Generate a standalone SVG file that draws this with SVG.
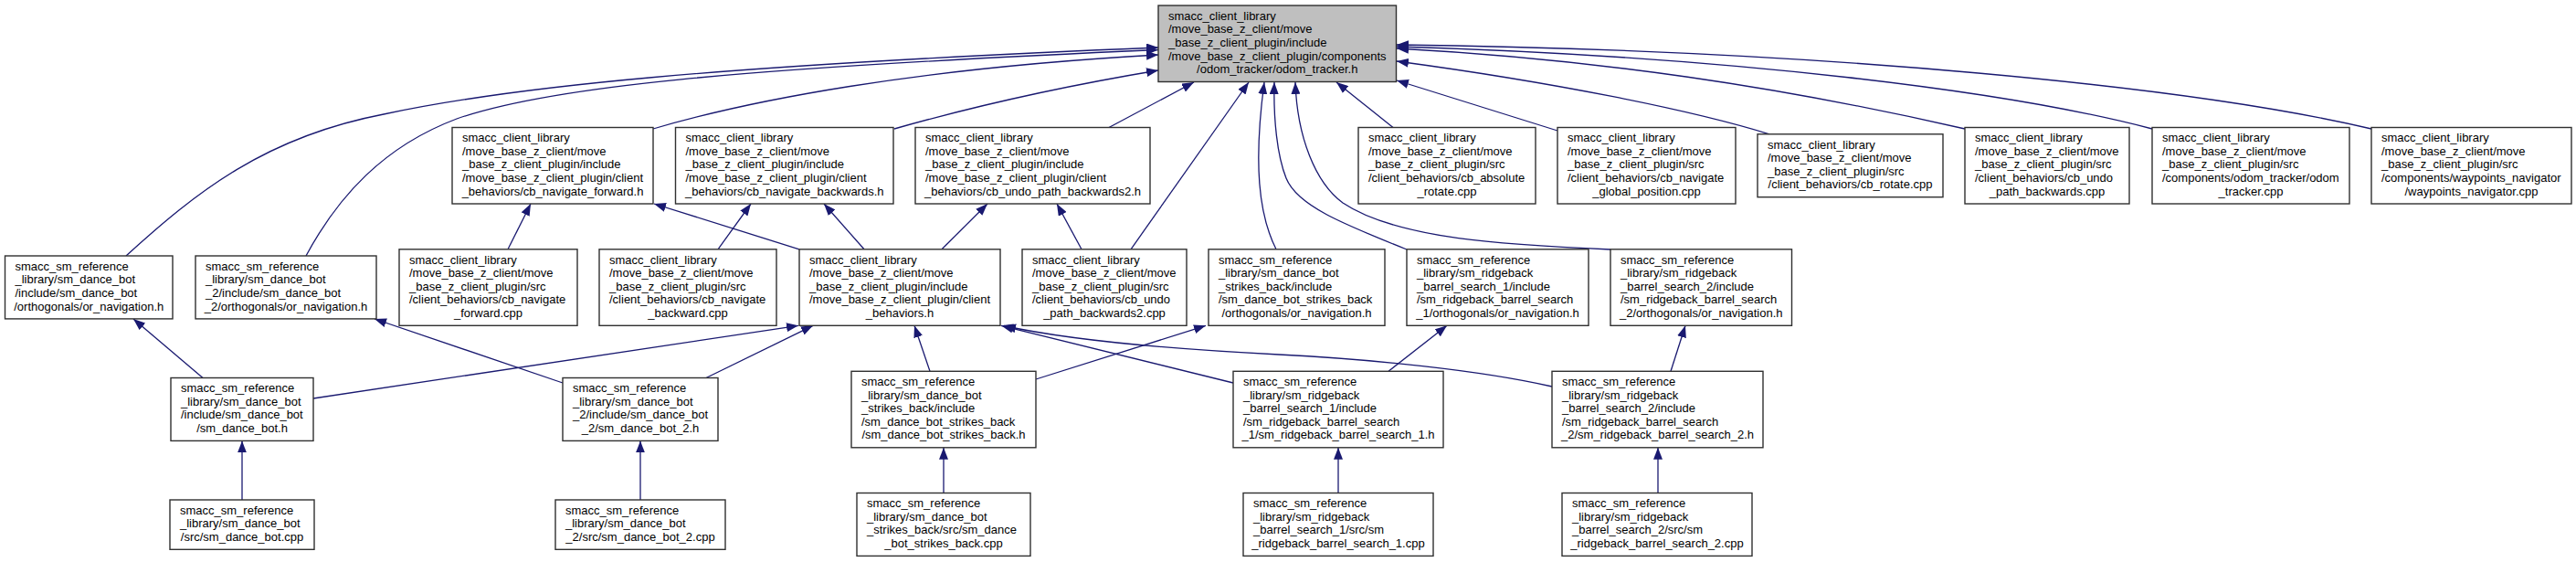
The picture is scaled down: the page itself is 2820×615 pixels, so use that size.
<svg xmlns="http://www.w3.org/2000/svg" width="2820" height="615" viewBox="0 0 2820 615">
<style>
.n rect{fill:#ffffff;stroke:#303030;stroke-width:1.4}
.m rect{fill:#bfbfbf;stroke:#303030;stroke-width:1.4}
text{font-family:"Liberation Sans",Arial,Helvetica,sans-serif;font-size:13px;fill:#000000}
.c{text-anchor:middle}
#edges path{fill:none;stroke:#191970;stroke-width:1.3;marker-end:url(#arr)}
</style>
<defs>
<marker id="arr" viewBox="0 0 13 10" markerWidth="13" markerHeight="10" refX="13" refY="5" orient="auto" markerUnits="userSpaceOnUse"><path d="M0,0 L13,5 L0,10 z" fill="#191970"/></marker>
</defs>
<rect x="0" y="0" width="2820" height="615" fill="#ffffff"/>
<g id="edges">
<path d="M138,280 C215,210 290,150 420,125 C560,95 780,72 1268,52"/>
<path d="M335,280 C370,215 420,160 500,130 C600,95 800,75 1268,54.5"/>
<path d="M715,141 C820,110 1000,75 1268,60"/>
<path d="M979,141 C1060,118 1160,95 1268,77"/>
<path d="M1214,139.5 L1307,90"/>
<path d="M1238,272.8 L1367,90"/>
<path d="M1397,272.8 C1378,235 1372,180 1384,90"/>
<path d="M1540,273 C1470,245 1420,225 1408,195 C1398,170 1394,130 1395,90"/>
<path d="M1763,273 C1650,268 1530,262 1470,222 C1440,200 1420,150 1418,90"/>
<path d="M1525,139.5 L1463,90"/>
<path d="M1705,143 L1529,88"/>
<path d="M1937,146.8 C1850,120 1700,90 1529,67"/>
<path d="M2151,141 C1950,95 1750,65 1529,53"/>
<path d="M2356,141 C2200,100 1900,62 1529,51"/>
<path d="M2596,141 C2400,95 2000,55 1529,49"/>
<path d="M556,272.8 L581,223"/>
<path d="M786,272.8 L822,223"/>
<path d="M875,272.8 L716,223"/>
<path d="M946,272.8 L902,223"/>
<path d="M1031,272.8 L1081,223"/>
<path d="M1184,272.8 L1157,223"/>
<path d="M222,413.5 L146,349"/>
<path d="M343,436 L874,356.3"/>
<path d="M616,419 L410,349"/>
<path d="M773,413.5 L890,356.3"/>
<path d="M1018,406.3 L1001,356.3"/>
<path d="M1134,415 L1320,356.3"/>
<path d="M1350,419 L1096,356.3"/>
<path d="M1699,423 C1620,405 1500,393 1400,388 C1280,382 1170,372 1099,356.5"/>
<path d="M1520,406.3 L1584,356.3"/>
<path d="M1829,406.3 L1845,356.3"/>
<path d="M265,547 L265,482.4"/>
<path d="M701,547 L701,482.4"/>
<path d="M1033,539.5 L1033,489.8"/>
<path d="M1465,539.5 L1465,489.8"/>
<path d="M1815,539.5 L1815,489.8"/>
</g>
<g id="node_main" class="m"><rect x="1268" y="6" width="260.5" height="83.5"/><text><tspan x="1279" y="21.7">smacc_client_library</tspan><tspan x="1279" y="36.3">/move_base_z_client/move</tspan><tspan x="1279" y="50.9">_base_z_client_plugin/include</tspan><tspan x="1279" y="65.5">/move_base_z_client_plugin/components</tspan><tspan class="c" x="1398.25" y="80.1">/odom_tracker/odom_tracker.h</tspan></text></g>
<g id="node_cb_navigate_forward_h" class="n"><rect x="495" y="139.5" width="220" height="83.5"/><text><tspan x="506" y="155.2">smacc_client_library</tspan><tspan x="506" y="169.8">/move_base_z_client/move</tspan><tspan x="506" y="184.4">_base_z_client_plugin/include</tspan><tspan x="506" y="199">/move_base_z_client_plugin/client</tspan><tspan class="c" x="605" y="213.6">_behaviors/cb_navigate_forward.h</tspan></text></g>
<g id="node_cb_navigate_backwards_h" class="n"><rect x="739.5" y="139.5" width="238.5" height="83.5"/><text><tspan x="750.5" y="155.2">smacc_client_library</tspan><tspan x="750.5" y="169.8">/move_base_z_client/move</tspan><tspan x="750.5" y="184.4">_base_z_client_plugin/include</tspan><tspan x="750.5" y="199">/move_base_z_client_plugin/client</tspan><tspan class="c" x="858.75" y="213.6">_behaviors/cb_navigate_backwards.h</tspan></text></g>
<g id="node_cb_undo_path_backwards2_h" class="n"><rect x="1002" y="139.5" width="257" height="83.5"/><text><tspan x="1013" y="155.2">smacc_client_library</tspan><tspan x="1013" y="169.8">/move_base_z_client/move</tspan><tspan x="1013" y="184.4">_base_z_client_plugin/include</tspan><tspan x="1013" y="199">/move_base_z_client_plugin/client</tspan><tspan class="c" x="1130.5" y="213.6">_behaviors/cb_undo_path_backwards2.h</tspan></text></g>
<g id="node_cb_absolute_rotate_cpp" class="n"><rect x="1487" y="139.5" width="194" height="83.5"/><text><tspan x="1498" y="155.2">smacc_client_library</tspan><tspan x="1498" y="169.8">/move_base_z_client/move</tspan><tspan x="1498" y="184.4">_base_z_client_plugin/src</tspan><tspan x="1498" y="199">/client_behaviors/cb_absolute</tspan><tspan class="c" x="1584" y="213.6">_rotate.cpp</tspan></text></g>
<g id="node_cb_navigate_global_position_cpp" class="n"><rect x="1705" y="139.5" width="195" height="83.5"/><text><tspan x="1716" y="155.2">smacc_client_library</tspan><tspan x="1716" y="169.8">/move_base_z_client/move</tspan><tspan x="1716" y="184.4">_base_z_client_plugin/src</tspan><tspan x="1716" y="199">/client_behaviors/cb_navigate</tspan><tspan class="c" x="1802.5" y="213.6">_global_position.cpp</tspan></text></g>
<g id="node_cb_rotate_cpp" class="n"><rect x="1924" y="146.8" width="203" height="68.9"/><text><tspan x="1935" y="162.5">smacc_client_library</tspan><tspan x="1935" y="177.1">/move_base_z_client/move</tspan><tspan x="1935" y="191.7">_base_z_client_plugin/src</tspan><tspan class="c" x="2025.5" y="206.3">/client_behaviors/cb_rotate.cpp</tspan></text></g>
<g id="node_cb_undo_path_backwards_cpp" class="n"><rect x="2151" y="139.5" width="180" height="83.5"/><text><tspan x="2162" y="155.2">smacc_client_library</tspan><tspan x="2162" y="169.8">/move_base_z_client/move</tspan><tspan x="2162" y="184.4">_base_z_client_plugin/src</tspan><tspan x="2162" y="199">/client_behaviors/cb_undo</tspan><tspan class="c" x="2241" y="213.6">_path_backwards.cpp</tspan></text></g>
<g id="node_odom_tracker_cpp" class="n"><rect x="2356" y="139.5" width="216" height="83.5"/><text><tspan x="2367" y="155.2">smacc_client_library</tspan><tspan x="2367" y="169.8">/move_base_z_client/move</tspan><tspan x="2367" y="184.4">_base_z_client_plugin/src</tspan><tspan x="2367" y="199">/components/odom_tracker/odom</tspan><tspan class="c" x="2464" y="213.6">_tracker.cpp</tspan></text></g>
<g id="node_waypoints_navigator_cpp" class="n"><rect x="2596" y="139.5" width="219" height="83.5"/><text><tspan x="2607" y="155.2">smacc_client_library</tspan><tspan x="2607" y="169.8">/move_base_z_client/move</tspan><tspan x="2607" y="184.4">_base_z_client_plugin/src</tspan><tspan x="2607" y="199">/components/waypoints_navigator</tspan><tspan class="c" x="2705.5" y="213.6">/waypoints_navigator.cpp</tspan></text></g>
<g id="node_dance_bot_or_navigation_h" class="n"><rect x="5.5" y="280" width="183.5" height="68.9"/><text><tspan x="16.5" y="295.7">smacc_sm_reference</tspan><tspan x="16.5" y="310.3">_library/sm_dance_bot</tspan><tspan x="16.5" y="324.9">/include/sm_dance_bot</tspan><tspan class="c" x="97.25" y="339.5">/orthogonals/or_navigation.h</tspan></text></g>
<g id="node_dance_bot_2_or_navigation_h" class="n"><rect x="214" y="280" width="198" height="68.9"/><text><tspan x="225" y="295.7">smacc_sm_reference</tspan><tspan x="225" y="310.3">_library/sm_dance_bot</tspan><tspan x="225" y="324.9">_2/include/sm_dance_bot</tspan><tspan class="c" x="313" y="339.5">_2/orthogonals/or_navigation.h</tspan></text></g>
<g id="node_cb_navigate_forward_cpp" class="n"><rect x="437" y="272.8" width="195" height="83.5"/><text><tspan x="448" y="288.5">smacc_client_library</tspan><tspan x="448" y="303.1">/move_base_z_client/move</tspan><tspan x="448" y="317.7">_base_z_client_plugin/src</tspan><tspan x="448" y="332.3">/client_behaviors/cb_navigate</tspan><tspan class="c" x="534.5" y="346.9">_forward.cpp</tspan></text></g>
<g id="node_cb_navigate_backward_cpp" class="n"><rect x="656" y="272.8" width="194" height="83.5"/><text><tspan x="667" y="288.5">smacc_client_library</tspan><tspan x="667" y="303.1">/move_base_z_client/move</tspan><tspan x="667" y="317.7">_base_z_client_plugin/src</tspan><tspan x="667" y="332.3">/client_behaviors/cb_navigate</tspan><tspan class="c" x="753" y="346.9">_backward.cpp</tspan></text></g>
<g id="node_client_behaviors_h" class="n"><rect x="875" y="272.8" width="220" height="83.5"/><text><tspan x="886" y="288.5">smacc_client_library</tspan><tspan x="886" y="303.1">/move_base_z_client/move</tspan><tspan x="886" y="317.7">_base_z_client_plugin/include</tspan><tspan x="886" y="332.3">/move_base_z_client_plugin/client</tspan><tspan class="c" x="985" y="346.9">_behaviors.h</tspan></text></g>
<g id="node_cb_undo_path_backwards2_cpp" class="n"><rect x="1119" y="272.8" width="180" height="83.5"/><text><tspan x="1130" y="288.5">smacc_client_library</tspan><tspan x="1130" y="303.1">/move_base_z_client/move</tspan><tspan x="1130" y="317.7">_base_z_client_plugin/src</tspan><tspan x="1130" y="332.3">/client_behaviors/cb_undo</tspan><tspan class="c" x="1209" y="346.9">_path_backwards2.cpp</tspan></text></g>
<g id="node_strikes_back_or_navigation_h" class="n"><rect x="1323" y="272.8" width="193" height="83.5"/><text><tspan x="1334" y="288.5">smacc_sm_reference</tspan><tspan x="1334" y="303.1">_library/sm_dance_bot</tspan><tspan x="1334" y="317.7">_strikes_back/include</tspan><tspan x="1334" y="332.3">/sm_dance_bot_strikes_back</tspan><tspan class="c" x="1419.5" y="346.9">/orthogonals/or_navigation.h</tspan></text></g>
<g id="node_barrel_search_1_or_navigation_h" class="n"><rect x="1540" y="272.8" width="199" height="83.5"/><text><tspan x="1551" y="288.5">smacc_sm_reference</tspan><tspan x="1551" y="303.1">_library/sm_ridgeback</tspan><tspan x="1551" y="317.7">_barrel_search_1/include</tspan><tspan x="1551" y="332.3">/sm_ridgeback_barrel_search</tspan><tspan class="c" x="1639.5" y="346.9">_1/orthogonals/or_navigation.h</tspan></text></g>
<g id="node_barrel_search_2_or_navigation_h" class="n"><rect x="1763" y="272.8" width="198.5" height="83.5"/><text><tspan x="1774" y="288.5">smacc_sm_reference</tspan><tspan x="1774" y="303.1">_library/sm_ridgeback</tspan><tspan x="1774" y="317.7">_barrel_search_2/include</tspan><tspan x="1774" y="332.3">/sm_ridgeback_barrel_search</tspan><tspan class="c" x="1862.25" y="346.9">_2/orthogonals/or_navigation.h</tspan></text></g>
<g id="node_sm_dance_bot_h" class="n"><rect x="187" y="413.5" width="156" height="68.9"/><text><tspan x="198" y="429.2">smacc_sm_reference</tspan><tspan x="198" y="443.8">_library/sm_dance_bot</tspan><tspan x="198" y="458.4">/include/sm_dance_bot</tspan><tspan class="c" x="265" y="473">/sm_dance_bot.h</tspan></text></g>
<g id="node_sm_dance_bot_2_h" class="n"><rect x="616" y="413.5" width="170" height="68.9"/><text><tspan x="627" y="429.2">smacc_sm_reference</tspan><tspan x="627" y="443.8">_library/sm_dance_bot</tspan><tspan x="627" y="458.4">_2/include/sm_dance_bot</tspan><tspan class="c" x="701" y="473">_2/sm_dance_bot_2.h</tspan></text></g>
<g id="node_sm_dance_bot_strikes_back_h" class="n"><rect x="932" y="406.3" width="202" height="83.5"/><text><tspan x="943" y="422">smacc_sm_reference</tspan><tspan x="943" y="436.6">_library/sm_dance_bot</tspan><tspan x="943" y="451.2">_strikes_back/include</tspan><tspan x="943" y="465.8">/sm_dance_bot_strikes_back</tspan><tspan class="c" x="1033" y="480.4">/sm_dance_bot_strikes_back.h</tspan></text></g>
<g id="node_sm_ridgeback_barrel_search_1_h" class="n"><rect x="1350" y="406.3" width="230" height="83.5"/><text><tspan x="1361" y="422">smacc_sm_reference</tspan><tspan x="1361" y="436.6">_library/sm_ridgeback</tspan><tspan x="1361" y="451.2">_barrel_search_1/include</tspan><tspan x="1361" y="465.8">/sm_ridgeback_barrel_search</tspan><tspan class="c" x="1465" y="480.4">_1/sm_ridgeback_barrel_search_1.h</tspan></text></g>
<g id="node_sm_ridgeback_barrel_search_2_h" class="n"><rect x="1699" y="406.3" width="231" height="83.5"/><text><tspan x="1710" y="422">smacc_sm_reference</tspan><tspan x="1710" y="436.6">_library/sm_ridgeback</tspan><tspan x="1710" y="451.2">_barrel_search_2/include</tspan><tspan x="1710" y="465.8">/sm_ridgeback_barrel_search</tspan><tspan class="c" x="1814.5" y="480.4">_2/sm_ridgeback_barrel_search_2.h</tspan></text></g>
<g id="node_sm_dance_bot_cpp" class="n"><rect x="186" y="547" width="158" height="54.3"/><text><tspan x="197" y="562.7">smacc_sm_reference</tspan><tspan x="197" y="577.3">_library/sm_dance_bot</tspan><tspan class="c" x="265" y="591.9">/src/sm_dance_bot.cpp</tspan></text></g>
<g id="node_sm_dance_bot_2_cpp" class="n"><rect x="608" y="547" width="186" height="54.3"/><text><tspan x="619" y="562.7">smacc_sm_reference</tspan><tspan x="619" y="577.3">_library/sm_dance_bot</tspan><tspan class="c" x="701" y="591.9">_2/src/sm_dance_bot_2.cpp</tspan></text></g>
<g id="node_sm_dance_bot_strikes_back_cpp" class="n"><rect x="938" y="539.5" width="190" height="68.9"/><text><tspan x="949" y="555.2">smacc_sm_reference</tspan><tspan x="949" y="569.8">_library/sm_dance_bot</tspan><tspan x="949" y="584.4">_strikes_back/src/sm_dance</tspan><tspan class="c" x="1033" y="599">_bot_strikes_back.cpp</tspan></text></g>
<g id="node_sm_ridgeback_barrel_search_1_cpp" class="n"><rect x="1361" y="539.5" width="208" height="68.9"/><text><tspan x="1372" y="555.2">smacc_sm_reference</tspan><tspan x="1372" y="569.8">_library/sm_ridgeback</tspan><tspan x="1372" y="584.4">_barrel_search_1/src/sm</tspan><tspan class="c" x="1465" y="599">_ridgeback_barrel_search_1.cpp</tspan></text></g>
<g id="node_sm_ridgeback_barrel_search_2_cpp" class="n"><rect x="1710" y="539.5" width="208" height="68.9"/><text><tspan x="1721" y="555.2">smacc_sm_reference</tspan><tspan x="1721" y="569.8">_library/sm_ridgeback</tspan><tspan x="1721" y="584.4">_barrel_search_2/src/sm</tspan><tspan class="c" x="1814" y="599">_ridgeback_barrel_search_2.cpp</tspan></text></g>
</svg>
